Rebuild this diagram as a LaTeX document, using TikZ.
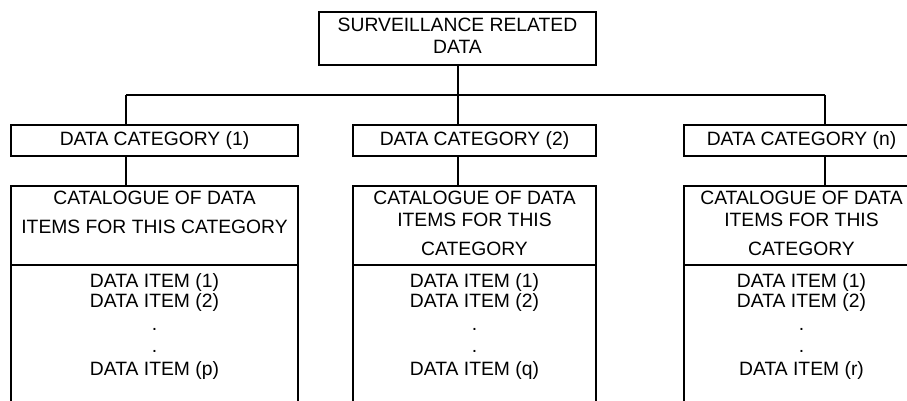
\documentclass[tikz,border=0pt]{standalone}
\usepackage{fontspec}
\setmainfont{Liberation Sans}
\begin{document}
\begin{tikzpicture}[x=1pt,y=-1pt,
  box/.style={draw, line width=2pt, rectangle, inner sep=0pt},
  txt/.style={anchor=base, inner sep=0pt, font=\fontsize{19.3}{22}\selectfont},
  wire/.style={line width=2pt}]
\useasboundingbox (0,0) rectangle (907,401);
\clip (0,0) rectangle (907,401);

% root
\node[box, minimum width=277pt, minimum height=53pt] (top) at (457.5,38.5) {};
\node[txt] (topa) at (457.5,32) {SURVEILLANCE RELATED};
\node[txt] (topb) at (457.5,54) {DATA};

% category boxes
\node[box, minimum width=287pt, minimum height=31pt] (cat1) at (154.5,140.5) {};
\node[box, minimum width=243pt, minimum height=31pt] (cat2) at (474.5,140.5) {};
\node[box, minimum width=235pt, minimum height=31pt] (catn) at (801.5,140.5) {};
\node[txt] (cat1t) at (154.5,146) {DATA CATEGORY (1)};
\node[txt] (cat2t) at (474.5,146) {DATA CATEGORY (2)};
\node[txt] (catnt) at (801.5,146) {DATA CATEGORY (n)};

% catalogue headers
\node[box, minimum width=287pt, minimum height=79pt] (hd1) at (154.5,225.5) {};
\node[box, minimum width=243pt, minimum height=79pt] (hd2) at (474.5,225.5) {};
\node[box, minimum width=235pt, minimum height=79pt] (hdn) at (801.5,225.5) {};

% item lists (open at the bottom)
\node[box, minimum width=287pt, minimum height=170pt] (ls1) at (154.5,350) {};
\node[box, minimum width=243pt, minimum height=170pt] (ls2) at (474.5,350) {};
\node[box, minimum width=235pt, minimum height=170pt] (lsn) at (801.5,350) {};

\node[txt] (h1a) at (154.5,204) {CATALOGUE OF DATA};
\node[txt] (h1b) at (154.5,233) {ITEMS FOR THIS CATEGORY};
\node[txt] (h2a) at (474.5,204) {CATALOGUE OF DATA};
\node[txt] (h2b) at (474.5,226) {ITEMS FOR THIS};
\node[txt] (h2c) at (474.5,255) {CATEGORY};
\node[txt] (hna) at (801.5,204) {CATALOGUE OF DATA};
\node[txt] (hnb) at (801.5,226) {ITEMS FOR THIS};
\node[txt] (hnc) at (801.5,255) {CATEGORY};

\foreach \c/\x/\l in {1/154.5/p, 2/474.5/q, n/801.5/r} {
  \node[txt] (i\c a) at (\x,287) {DATA ITEM (1)};
  \node[txt] (i\c b) at (\x,307) {DATA ITEM (2)};
  \node[txt] (i\c c) at (\x,330) {.};
  \node[txt] (i\c d) at (\x,352) {.};
  \node[txt] (i\c e) at (\x,375) {DATA ITEM (\l)};
}

% connectors
\coordinate (busl) at (126,95);
\coordinate (busr) at (825,95);
\draw[wire] (busl) -- (busr);
\draw[wire] (top.south) -- (top.south |- cat2.north);
\draw[wire] (busl) -- (busl |- cat1.north);
\draw[wire] (busr) -- (busr |- catn.north);
\draw[wire] (busl |- cat1.south) -- (busl |- hd1.north);
\draw[wire] (top.south |- cat2.south) -- (top.south |- hd2.north);
\draw[wire] (busr |- catn.south) -- (busr |- hdn.north);
\end{tikzpicture}
\end{document}
